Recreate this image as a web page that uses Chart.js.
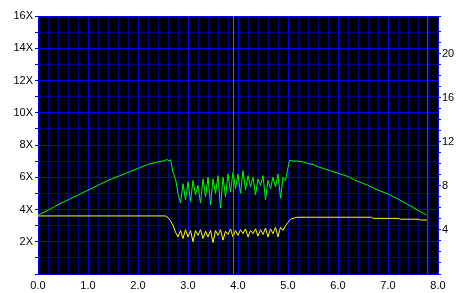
<!DOCTYPE html>
<html>
<head>
<meta charset="utf-8">
<script src="https://cdn.jsdelivr.net/npm/chart.js@4/dist/chart.umd.min.js"></script>
<style>
  body { margin: 0; background: #ffffff; }
  canvas { display: block; }
</style>
</head>
<body>
<canvas class="js-speed" width="463" height="293"></canvas>
<script>
// green curve: read speed (X)
const speedX = [0.0, 0.2, 0.4, 0.6, 0.8, 1.0, 1.2, 1.4, 1.6, 1.8, 2.0, 2.2, 2.4, 2.5, 2.58, 2.62, 2.65, 2.7, 2.75, 2.8, 2.85,
  2.90, 2.95, 3.00, 3.05, 3.10, 3.15, 3.20, 3.25, 3.30, 3.35, 3.40, 3.45, 3.50, 3.55, 3.60, 3.65, 3.70, 3.75, 3.80, 3.85,
  3.90, 3.95, 4.00, 4.05, 4.10, 4.15, 4.20, 4.25, 4.30, 4.35, 4.40, 4.45, 4.50, 4.55, 4.60, 4.65, 4.70, 4.75, 4.80, 4.85,
  4.90, 4.95, 5.00, 5.03, 5.1, 5.2, 5.3, 5.4, 5.5, 5.6, 5.8, 6.0, 6.2, 6.33, 6.6, 6.8, 7.0, 7.2, 7.4, 7.6, 7.77];
const speedY = [3.65, 3.95, 4.3, 4.6, 4.9, 5.2, 5.5, 5.8, 6.05, 6.3, 6.55, 6.8, 6.95, 7.0, 7.1, 7.0, 7.1, 6.3, 5.9, 5.0, 4.4,
  5.6, 4.6, 5.7, 4.5, 5.8, 4.9, 5.5, 4.4, 5.9, 4.8, 6.0, 4.3, 5.9, 5.0, 6.1, 4.1, 6.0, 4.8, 6.2, 5.1,
  6.3, 5.3, 6.2, 5.0, 6.4, 5.2, 6.1, 5.4, 6.0, 4.9, 5.9, 5.5, 6.1, 4.6, 5.8, 5.3, 6.0, 5.4, 6.2, 4.7,
  6.0, 5.8, 6.6, 7.05, 7.0, 7.0, 6.95, 6.85, 6.8, 6.65, 6.45, 6.25, 6.05, 5.83, 5.5, 5.2, 4.96, 4.65, 4.3, 3.95, 3.66];

// yellow curve
const otherX = [0.0, 2.55, 2.6, 2.65, 2.7, 2.75, 2.8,
  2.85, 2.90, 2.95, 3.00, 3.05, 3.10, 3.15, 3.20, 3.25, 3.30, 3.35, 3.40, 3.45, 3.50, 3.55, 3.60, 3.65, 3.70, 3.75, 3.80,
  3.85, 3.90, 3.95, 4.00, 4.05, 4.10, 4.15, 4.20, 4.25, 4.30, 4.35, 4.40, 4.45, 4.50, 4.55, 4.60, 4.65, 4.70, 4.75, 4.80,
  4.85, 4.90, 4.95, 5.00, 5.05, 5.15, 5.2, 6.67, 6.7, 7.2, 7.25, 7.6, 7.65, 7.78];
const otherY = [3.6, 3.6, 3.5, 3.3, 3.0, 2.6, 2.3,
  2.7, 2.2, 2.75, 2.3, 2.7, 2.0, 2.7, 2.4, 2.75, 2.2, 2.65, 2.3, 2.7, 1.95, 2.7, 2.4, 2.75, 2.1, 2.65, 2.45,
  2.8, 2.3, 2.7, 2.4, 2.75, 2.5, 2.8, 2.3, 2.7, 2.5, 2.8, 2.35, 2.75, 2.45, 2.85, 2.3, 2.8, 2.5, 2.9, 2.3,
  2.9, 2.7, 3.0, 3.2, 3.4, 3.5, 3.52, 3.52, 3.45, 3.45, 3.4, 3.4, 3.35, 3.35];

// vertical marker lines (x value, colour)
const markerValues = [3.91, 7.79];
const markerColors = ['#ff00ff', '#ff0000'];

// axes
const xMin = 0, xMax = 8;
const leftMax = 16;
const rightMax = 23.45;
const rightLabels = [4, 8, 12, 16, 20];

const toPoints = function(xs, ys) {
  let result = [];
  for (let i = 0; i < xs.length; i++) {
    result.push({ x: xs[i], y: ys[i] });
  }
  return result;
};

const isWhole = function(v) {
  return Math.abs(v - Math.round(v)) < 1e-6;
};

const gridColor = function(ctx, every) {
  if (!ctx.tick) return '#0000ff';
  let v = ctx.tick.value / every;
  return isWhole(v) ? '#0000ff' : '#000099';
};

// black plot area
const plotBackground = {
  id: 'plotBackground',
  beforeDraw(chart) {
    const a = chart.chartArea;
    const c = chart.ctx;
    c.save();
    c.fillStyle = '#000000';
    c.fillRect(a.left, a.top, a.right - a.left, a.bottom - a.top);
    c.restore();
  }
};

// the two vertical marker lines, placed through the x scale
const markerLines = {
  id: 'markerLines',
  afterDatasetsDraw(chart) {
    const a = chart.chartArea;
    const c = chart.ctx;
    const xs = chart.scales.x;
    c.save();
    c.lineWidth = 1;
    for (let i = 0; i < markerValues.length; i++) {
      const px = Math.floor(xs.getPixelForValue(markerValues[i])) + 0.5;
      c.strokeStyle = markerColors[i];
      c.beginPath();
      c.moveTo(px, a.top);
      c.lineTo(px, a.bottom);
      c.stroke();
    }
    c.restore();
  }
};

const tickFont = { family: '"Liberation Sans", Arial, sans-serif', size: 11 };

new Chart(document.querySelector('.js-speed').getContext('2d'), {
  type: 'line',
  data: {
    datasets: [
      {
        label: 'speed',
        data: toPoints(speedX, speedY),
        borderColor: '#00ff00',
        borderWidth: 1,
        pointRadius: 0,
        tension: 0
      },
      {
        label: 'other',
        data: toPoints(otherX, otherY),
        borderColor: '#ffff00',
        borderWidth: 1,
        pointRadius: 0,
        tension: 0
      }
    ]
  },
  options: {
    responsive: false,
    animation: false,
    devicePixelRatio: 1,
    layout: { padding: { top: 16, left: 0, right: 0, bottom: 0 } },
    plugins: { legend: { display: false }, tooltip: { enabled: false } },
    scales: {
      x: {
        type: 'linear',
        min: xMin,
        max: xMax,
        afterFit: function(scale) { scale.height = 19; },
        grid: {
          color: (ctx) => gridColor(ctx, 1),
          drawTicks: false
        },
        border: { color: '#0000ff' },
        ticks: {
          stepSize: 0.2,
          autoSkip: false,
          maxRotation: 0,
          padding: 5,
          color: '#000000',
          font: tickFont,
          callback: (v) => isWhole(v) ? Number(v).toFixed(1) : ''
        }
      },
      y: {
        position: 'left',
        min: 0,
        max: leftMax,
        afterFit: function(scale) { scale.width = 38; },
        grid: {
          color: (ctx) => gridColor(ctx, 2),
          tickColor: '#0000ff',
          tickLength: 3
        },
        border: { color: '#0000ff' },
        ticks: {
          stepSize: 1,
          autoSkip: false,
          padding: 2,
          color: '#000000',
          font: tickFont,
          callback: (v) => (v > 0 && v % 2 === 0) ? v + 'X' : ''
        }
      },
      y2: {
        position: 'right',
        min: 0,
        max: rightMax,
        afterFit: function(scale) { scale.width = 25; },
        grid: {
          drawOnChartArea: false,
          tickColor: '#0000ff',
          tickLength: 3
        },
        border: { color: '#0000ff' },
        ticks: {
          stepSize: 1,
          autoSkip: false,
          padding: 1,
          color: '#000000',
          font: tickFont,
          callback: (v) => rightLabels.includes(v) ? String(v) : ''
        }
      }
    }
  },
  plugins: [plotBackground, markerLines]
});
</script>
</body>
</html>
